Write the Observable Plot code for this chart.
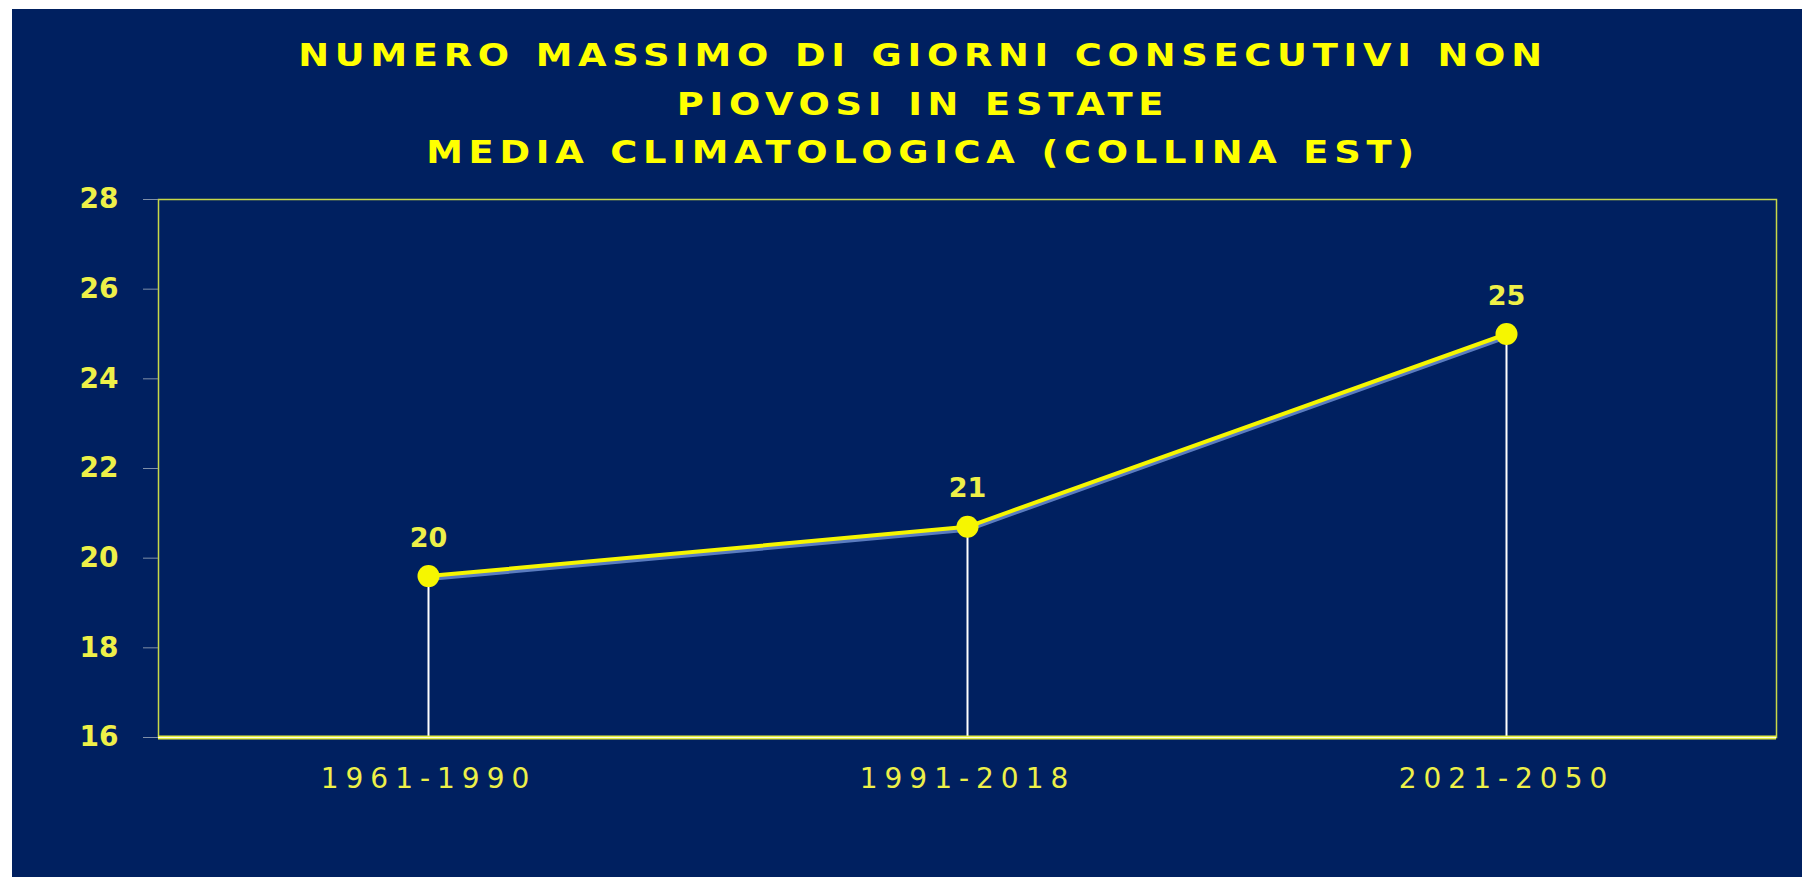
<!DOCTYPE html>
<html>
<head>
<meta charset="utf-8">
<script src="https://cdn.jsdelivr.net/npm/d3@7"></script>
<script src="https://cdn.jsdelivr.net/npm/@observablehq/plot@0.6"></script>
<style>
  html, body { margin: 0; padding: 0; background: #ffffff; width: 1817px; height: 890px; overflow: hidden; }
  #panel { position: absolute; left: 12px; top: 9px; width: 1790px; height: 868px; background: #002060; }
  #title { position: absolute; left: 0; top: 22px; width: 1822px; text-align: center;
    font-family: "DejaVu Sans", sans-serif; font-weight: bold; font-size: 32px; line-height: 48.5px;
    color: #ffff00; letter-spacing: 5px; word-spacing: 2px;
    transform: scaleX(1.15); transform-origin: 911px 0; }
  #chart { position: absolute; left: 0; top: 171px; }
  #chart g[aria-label="x-axis tick label"] text { letter-spacing: 7px; }
  #chart g[aria-label="value labels"] text { letter-spacing: 1px; }
</style>
</head>
<body>
<div id="panel">
  <div id="title">NUMERO MASSIMO DI GIORNI CONSECUTIVI NON<br>PIOVOSI IN ESTATE<br>MEDIA CLIMATOLOGICA (COLLINA EST)</div>
  <div id="chart"></div>
</div>
<script>
const periods = ["1961-1990", "1991-2018", "2021-2050"];
const values = [19.6, 20.7, 25.0];
const valueLabels = ["20", "21", "25"];
const yTicks = [16, 18, 20, 22, 24, 26, 28];
const yDomain = [16, 28];

const data = periods.map((p, i) => ({period: p, value: values[i], label: valueLabels[i]}));

const yellow = "#f6f600";
const axisText = "#eef048";

const chart = Plot.plot({
  width: 1790,
  height: 697,
  marginLeft: 146,
  marginRight: 26,
  marginTop: 19,
  marginBottom: 140,
  style: {background: "transparent", color: axisText, fontFamily: "DejaVu Sans, sans-serif"},
  x: {type: "point", domain: periods, padding: 0.5, label: null},
  y: {domain: yDomain, ticks: yTicks, label: null},
  marks: [
    Plot.frame({stroke: "#c8d848", strokeWidth: 1.5}),
    Plot.axisY({ticks: yTicks, tickSize: 15, tickPadding: 25, stroke: "#7f8fa8", fill: axisText, fontSize: 28, fontWeight: "bold", label: null}),
    Plot.axisX({tickSize: 0, tickPadding: 31, fill: axisText, fontSize: 28, label: null}),
    Plot.ruleX(data, {x: "period", y1: () => yDomain[0], y2: "value", stroke: "#ffffff", strokeWidth: 2, ariaLabel: "drop"}),
    Plot.ruleY([yDomain[0]], {stroke: "#e4ee40", strokeWidth: 4}),
    Plot.ruleY([yDomain[0]], {stroke: "#ffffff", strokeWidth: 1.2, strokeOpacity: 0.85}),
    Plot.line(data, {x: "period", y: "value", stroke: "#5a7cc0", strokeWidth: 4, dy: 3}),
    Plot.line(data, {x: "period", y: "value", stroke: yellow, strokeWidth: 4}),
    Plot.dot(data, {x: "period", y: "value", r: 11, fill: yellow, stroke: "none"}),
    Plot.text(data, {x: "period", y: "value", text: "label", dy: -38, fill: axisText, fontSize: 27, fontWeight: "bold", ariaLabel: "value labels"})
  ]
});

document.getElementById("chart").appendChild(chart);

// Gradient for the drop lines (white at the point fading toward the baseline)
const ns = "http://www.w3.org/2000/svg";
const defs = document.createElementNS(ns, "defs");
chart.insertBefore(defs, chart.firstChild);
chart.querySelectorAll('g[aria-label="drop"] line').forEach((ln, i) => {
  const g = document.createElementNS(ns, "linearGradient");
  g.setAttribute("id", "dropGrad" + i);
  g.setAttribute("gradientUnits", "userSpaceOnUse");
  const x = ln.getAttribute("x1") || "0";
  const ya = +ln.getAttribute("y1"), yb = +ln.getAttribute("y2");
  const top = Math.min(ya, yb), bot = Math.max(ya, yb);
  g.setAttribute("x1", x); g.setAttribute("x2", x);
  g.setAttribute("y1", top); g.setAttribute("y2", bot);
  [["0", "#ffffff", 1], ["0.45", "#c8d8ff", 0.9], ["0.8", "#7090d0", 0.5], ["1", "#5070b0", 0]].forEach(([o, c, op]) => {
    const s = document.createElementNS(ns, "stop");
    s.setAttribute("offset", o); s.setAttribute("stop-color", c); s.setAttribute("stop-opacity", op);
    g.appendChild(s);
  });
  defs.appendChild(g);
  ln.setAttribute("stroke", `url(#dropGrad${i})`);
});
</script>
</body>
</html>
